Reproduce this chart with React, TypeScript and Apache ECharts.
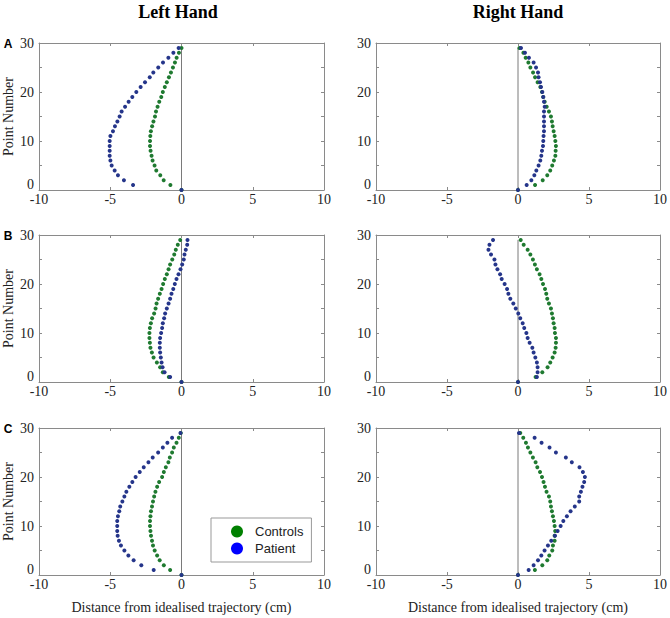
import React, { useEffect, useRef } from "react";
import * as echarts from "echarts";

// Point numbers 0..29
const pointNumbers: number[] = Array.from({ length: 30 }, (_, i) => i);

// Panel A
const aLeftPatient = [0, -3.40, -4.04, -4.46, -4.69, -4.90, -4.99, -5.04, -5.04, -5.04, -5.04, -4.99, -4.81, -4.67, -4.50, -4.34, -4.20, -3.96, -3.71, -3.45, -3.17, -2.87, -2.56, -2.23, -1.98, -1.63, -1.30, -0.92, -0.57, -0.20];
const aLeftControls = [0, -0.78, -1.25, -1.49, -1.77, -1.89, -2.03, -2.10, -2.17, -2.21, -2.21, -2.19, -2.15, -2.06, -1.97, -1.86, -1.79, -1.68, -1.56, -1.42, -1.31, -1.17, -1.03, -0.88, -0.74, -0.60, -0.46, -0.34, -0.18, 0];
const aRightPatient = [0, 0.61, 0.94, 1.15, 1.29, 1.45, 1.57, 1.64, 1.69, 1.76, 1.78, 1.80, 1.83, 1.83, 1.83, 1.83, 1.83, 1.88, 1.83, 1.78, 1.71, 1.62, 1.55, 1.45, 1.41, 1.27, 1.10, 0.77, 0.49, 0.21];
const aRightControls = [0, 1.20, 1.74, 2.06, 2.27, 2.41, 2.53, 2.63, 2.65, 2.67, 2.63, 2.58, 2.51, 2.44, 2.39, 2.32, 2.18, 2.02, 1.88, 1.78, 1.69, 1.57, 1.38, 1.20, 1.06, 0.87, 0.73, 0.54, 0.38, 0.10];

// Panel B
const bLeftPatient = [0, -0.80, -1.19, -1.33, -1.40, -1.45, -1.50, -1.52, -1.52, -1.50, -1.43, -1.36, -1.31, -1.22, -1.15, -1.03, -0.91, -0.80, -0.70, -0.58, -0.47, -0.35, -0.21, -0.07, 0.05, 0.16, 0.21, 0.30, 0.40, 0.42];
const bLeftControls = [0, -0.89, -1.31, -1.50, -1.73, -1.96, -2.08, -2.18, -2.22, -2.25, -2.25, -2.22, -2.15, -2.06, -1.92, -1.82, -1.75, -1.64, -1.52, -1.40, -1.29, -1.17, -1.03, -0.91, -0.80, -0.65, -0.51, -0.40, -0.26, -0.09];
const bRightPatient = [0, 1.33, 1.38, 1.38, 1.33, 1.22, 1.10, 1.01, 0.82, 0.68, 0.59, 0.44, 0.33, 0.16, 0.02, -0.16, -0.33, -0.54, -0.68, -0.77, -0.94, -1.15, -1.26, -1.45, -1.59, -1.66, -1.90, -2.08, -2.01, -1.76];
const bRightControls = [0, 1.24, 1.71, 2.08, 2.27, 2.44, 2.58, 2.65, 2.67, 2.67, 2.60, 2.58, 2.51, 2.46, 2.39, 2.32, 2.18, 2.06, 1.99, 1.90, 1.76, 1.64, 1.52, 1.33, 1.19, 1.05, 0.87, 0.68, 0.40, 0.19];

// Panel C
const cLeftPatient = [0, -1.95, -2.82, -3.36, -3.73, -4.01, -4.25, -4.39, -4.48, -4.51, -4.51, -4.51, -4.46, -4.37, -4.30, -4.15, -4.01, -3.87, -3.66, -3.45, -3.22, -2.93, -2.65, -2.32, -2.02, -1.64, -1.31, -0.99, -0.66, -0.07];
const cLeftControls = [0, -0.80, -1.24, -1.53, -1.71, -1.88, -2.00, -2.07, -2.14, -2.18, -2.21, -2.21, -2.18, -2.14, -2.07, -2.00, -1.92, -1.83, -1.71, -1.57, -1.36, -1.24, -1.10, -0.92, -0.82, -0.66, -0.54, -0.35, -0.19, -0.05];
const cRightPatient = [0, 0.75, 1.10, 1.41, 1.64, 1.87, 2.11, 2.34, 2.60, 2.79, 3.00, 3.19, 3.44, 3.70, 4.00, 4.31, 4.31, 4.43, 4.54, 4.66, 4.71, 4.57, 4.33, 3.79, 3.37, 2.67, 2.22, 1.66, 1.17, 0.07];
const cRightControls = [0, 1.19, 1.71, 2.06, 2.20, 2.41, 2.46, 2.58, 2.58, 2.62, 2.58, 2.53, 2.46, 2.39, 2.32, 2.27, 2.18, 2.01, 1.90, 1.80, 1.69, 1.55, 1.36, 1.24, 1.05, 0.87, 0.70, 0.56, 0.37, 0.16];

// Idealised trajectory (x = 0 from point 0 to point 29)
const idealX = [0, 0];
const idealPoints = [0, 29];

const xTicks = [-10, -5, 0, 5, 10];
const yTicks = [0, 10, 20, 30];

const panelLetters = ["A", "B", "C"];
const columnTitles = ["Left Hand", "Right Hand"];
const seriesNames = ["Controls", "Patient"];
const xTitle = "Distance from idealised trajectory (cm)";
const yTitle = "Point Number";

const panels = [
  { controls: aLeftControls, patient: aLeftPatient },
  { controls: aRightControls, patient: aRightPatient },
  { controls: bLeftControls, patient: bLeftPatient },
  { controls: bRightControls, patient: bRightPatient },
  { controls: cLeftControls, patient: cLeftPatient },
  { controls: cRightControls, patient: cRightPatient },
];

const SERIF = "'Liberation Serif', 'Times New Roman', serif";
const SANS = "'Liberation Sans', Arial, sans-serif";
const AXIS_GRAY = "#8a8a8a";
const GREEN = "#1f7a30";
const NAVY = "#25358a";

export default function App() {
  const ref = useRef<HTMLDivElement>(null);

  useEffect(() => {
    if (!ref.current) return;
    const chart = echarts.init(ref.current, null, { renderer: "svg" });

    const rowTops = [43, 235, 428];
    const colLefts = [39, 376];
    const colWidths = [285, 284];
    const gridHeight = 147;

    const grids: any[] = [];
    const xAxes: any[] = [];
    const yAxes: any[] = [];
    const series: any[] = [];

    panels.forEach((p, i) => {
      const row = Math.floor(i / 2);
      const col = i % 2;
      grids.push({
        left: colLefts[col],
        top: rowTops[row],
        width: colWidths[col],
        height: gridHeight,
        show: false,
      });
      const baseX = {
        type: "value",
        gridIndex: i,
        min: xTicks[0],
        max: xTicks[xTicks.length - 1],
        interval: 5,
        splitLine: { show: false },
        axisLine: { show: true, onZero: false, lineStyle: { color: AXIS_GRAY, width: 1 } },
        axisTick: { show: true, inside: true, length: 3, lineStyle: { color: AXIS_GRAY } },
      };
      xAxes.push({
        ...baseX,
        position: "bottom",
        axisLabel: {
          show: true,
          margin: 3,
          lineHeight: 13,
          fontFamily: SERIF,
          fontSize: 14,
          color: "#222",
          formatter: (v: number) => (xTicks.includes(v) ? String(v) : ""),
        },
        name: row === 2 ? xTitle : "",
        nameLocation: "middle",
        nameGap: 25,
        nameTextStyle: { fontFamily: SERIF, fontSize: 14, color: "#222" },
      });
      xAxes.push({ ...baseX, position: "top", axisLabel: { show: false } });

      const baseY = {
        type: "value",
        gridIndex: i,
        min: yTicks[0],
        max: yTicks[yTicks.length - 1],
        interval: 5,
        splitLine: { show: false },
        axisLine: { show: true, onZero: false, lineStyle: { color: AXIS_GRAY, width: 1 } },
        axisTick: { show: true, inside: true, length: 3, lineStyle: { color: AXIS_GRAY } },
      };
      yAxes.push({
        ...baseY,
        position: "left",
        axisLabel: {
          show: true,
          margin: 5,
          lineHeight: 11,
          verticalAlignMinLabel: "bottom",
          fontFamily: SERIF,
          fontSize: 14,
          color: "#222",
          formatter: (v: number) => (yTicks.includes(v) ? String(v) : ""),
        },
        name: col === 0 ? yTitle : "",
        nameLocation: "middle",
        nameGap: 24,
        nameTextStyle: { fontFamily: SERIF, fontSize: 14, color: "#222" },
      });
      yAxes.push({ ...baseY, position: "right", axisLabel: { show: false } });

      const xi = i * 2;
      const yi = i * 2;
      series.push({
        type: "line",
        xAxisIndex: xi,
        yAxisIndex: yi,
        data: idealPoints.map((y, k) => [idealX[k], y]),
        showSymbol: false,
        symbol: "none",
        lineStyle: { color: "#7a7a7a", width: 1 },
        silent: true,
        z: 1,
      });
      series.push({
        type: "scatter",
        name: seriesNames[0],
        xAxisIndex: xi,
        yAxisIndex: yi,
        data: p.controls.map((x, k) => [x, pointNumbers[k]]),
        symbolSize: 4,
        itemStyle: { color: GREEN, opacity: 1 },
        z: 2,
      });
      series.push({
        type: "scatter",
        name: seriesNames[1],
        xAxisIndex: xi,
        yAxisIndex: yi,
        data: p.patient.map((x, k) => [x, pointNumbers[k]]),
        symbolSize: 4,
        itemStyle: { color: NAVY, opacity: 1 },
        z: 3,
      });
    });

    const option: any = {
      animation: false,
      backgroundColor: "#fff",
      title: [
        {
          text: columnTitles[0],
          left: 178,
          top: 3,
          textAlign: "center",
          padding: 0,
          textStyle: { fontFamily: SERIF, fontWeight: "bold", fontSize: 18, color: "#000" },
        },
        {
          text: columnTitles[1],
          left: 518,
          top: 3,
          textAlign: "center",
          padding: 0,
          textStyle: { fontFamily: SERIF, fontWeight: "bold", fontSize: 18, color: "#000" },
        },
      ],
      legend: {
        left: 211,
        top: 518,
        orient: "vertical",
        icon: "circle",
        itemWidth: 12,
        itemHeight: 12,
        itemGap: 4,
        padding: [7, 8, 7, 20],
        borderColor: "#999",
        borderWidth: 1,
        backgroundColor: "#fff",
        selectedMode: false,
        textStyle: { fontFamily: SANS, fontSize: 13, color: "#222", padding: [0, 0, 0, 7] },
        data: [
          { name: seriesNames[0], itemStyle: { color: "#008000", opacity: 1 } },
          { name: seriesNames[1], itemStyle: { color: "#0000ff", opacity: 1 } },
        ],
      },
      grid: grids,
      xAxis: xAxes,
      yAxis: yAxes,
      series,
      graphic: panelLetters.map((letter, r) => ({
        type: "text",
        x: 8,
        y: rowTops[r] + 1,
        style: {
          text: letter,
          fontFamily: SANS,
          fontWeight: "bold",
          fontSize: 12,
          fill: "#000",
          textAlign: "center",
          textVerticalAlign: "middle",
        },
      })),
    };

    chart.setOption(option);
    return () => chart.dispose();
  }, []);

  return (
    <div
      ref={ref}
      style={{ position: "fixed", left: 0, top: 0, width: 670, height: 618, background: "#fff" }}
    />
  );
}
